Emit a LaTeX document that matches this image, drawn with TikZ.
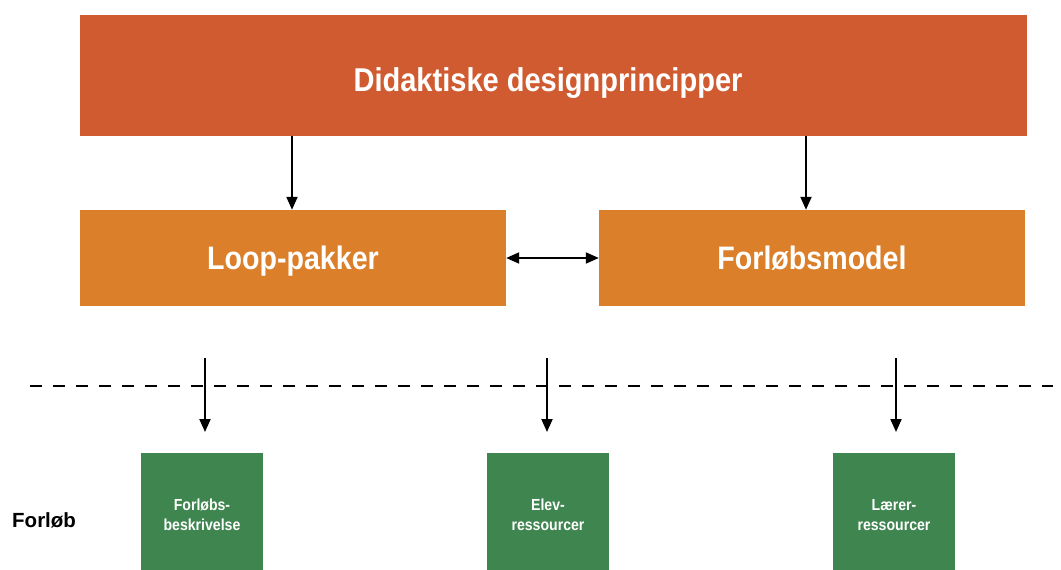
\documentclass[tikz,border=0pt]{standalone}
\usepackage{fontspec}
\setmainfont{Liberation Sans}
\newfontfamily\condfont[FakeStretch=0.88]{Liberation Sans}
\usetikzlibrary{arrows.meta}
\definecolor{topc}{HTML}{D15B30}
\definecolor{midc}{HTML}{DB7F2A}
\definecolor{grn}{HTML}{3F8550}
\newcommand{\lowstrut}{\rule{0pt}{18pt}}
\tikzset{
  topbox/.style={fill=topc, draw=none, minimum width=947pt, minimum height=121pt, text=white, font=\condfont\bfseries\fontsize{33}{40}\selectfont, inner sep=0pt, text height=32.6pt, text depth=0pt},
  midbox/.style={fill=midc, draw=none, minimum width=426pt, minimum height=96pt, text=white, font=\condfont\bfseries\fontsize{32.5}{38}\selectfont, inner sep=0pt, text height=23.3pt, text depth=0pt},
  grnbox/.style={fill=grn, draw=none, minimum width=122pt, minimum height=117pt, text=white, font=\condfont\bfseries\fontsize{16}{19.5}\selectfont, align=center, inner sep=0pt},
  arr/.style={-{Triangle[length=13pt,width=11pt]}, line width=2pt, black},
  darr/.style={{Triangle[length=13pt,width=11pt]}-{Triangle[length=13pt,width=11pt]}, line width=2pt, black},
}
\begin{document}
\begin{tikzpicture}[x=1pt,y=-1pt]
\useasboundingbox (0,0) rectangle (1061,570);
\clip (0,0) rectangle (1061,570);
\node[topbox] (top) at (553.5,75.5) {Didaktiske designprincipper\kern11pt};
\node[midbox] (loop) at (293,258) {Loop-pakker};
\node[midbox] (forl) at (812,258) {Forløbsmodel};
\coordinate (a1) at (292,136);
\coordinate (a2) at (806,136);
\draw[arr] (a1) -- (a1 |- loop.north);
\draw[arr] (a2) -- (a2 |- forl.north);
\draw[darr] (loop.east) -- (forl.west);
\coordinate (dl) at (30,386);
\coordinate (dr) at (1053,386);
\draw[dash pattern=on 12pt off 11pt, line width=2pt] (dl) -- (dr);
\node[grnbox] (g1) at (202,511.5) {\lowstrut Forløbs-\\beskrivelse};
\node[grnbox] (g2) at (548,511.5) {\lowstrut Elev-\\ressourcer};
\node[grnbox] (g3) at (894,511.5) {\lowstrut Lærer-\\ressourcer};
\coordinate (s1) at (205,358); \coordinate (e1) at (205,432);
\coordinate (s2) at (547,358); \coordinate (e2) at (547,432);
\coordinate (s3) at (896,358); \coordinate (e3) at (896,432);
\draw[arr] (s1) -- (e1);
\draw[arr] (s2) -- (e2);
\draw[arr] (s3) -- (e3);
\node[font=\bfseries\fontsize{20.5}{24}\selectfont, anchor=base west, inner sep=0pt] (lab) at (12,527) {Forløb};
\end{tikzpicture}
\end{document}
